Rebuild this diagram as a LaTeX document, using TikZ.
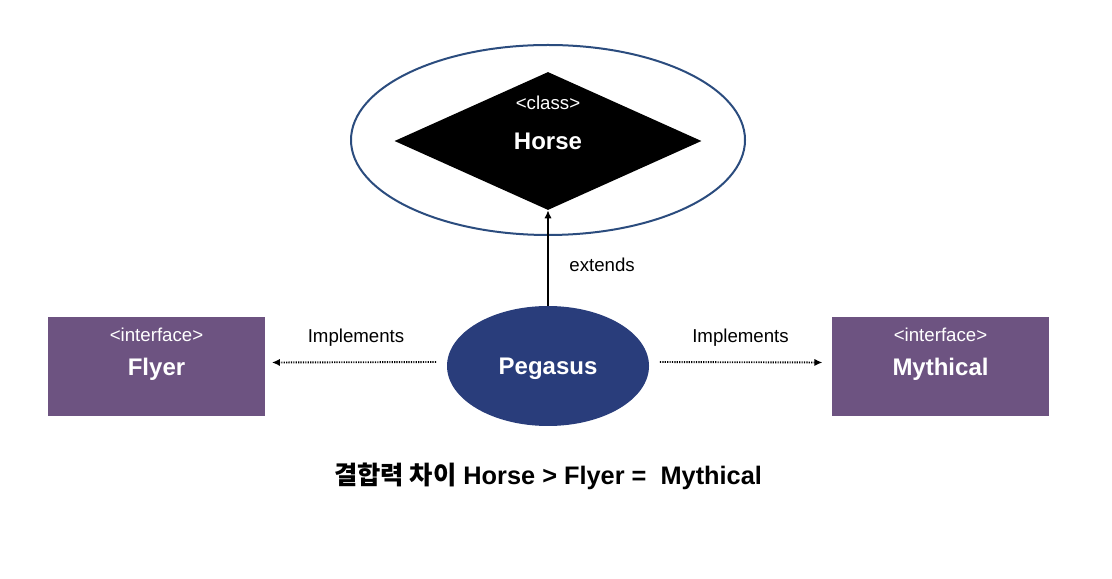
\documentclass[tikz,border=0pt]{standalone}
\usepackage{fontspec}
\setmainfont{Liberation Sans}
\newfontfamily\cjk{Noto Sans CJK KR}
\usetikzlibrary{arrows.meta,shapes.geometric}
\definecolor{ringblue}{HTML}{2B4C7E}
\definecolor{pegblue}{HTML}{293D7B}
\definecolor{ifpurple}{HTML}{6D5381}

\begin{document}
\begin{tikzpicture}[x=0.75pt,y=0.75pt,>={Latex[length=6pt,width=5.5pt]},
 title/.style={font=\bfseries\fontsize{18}{22}\selectfont,text=white,text height=13pt,text depth=0pt},
 tag/.style={font=\fontsize{14}{17}\selectfont,text=white},
 note/.style={font=\fontsize{14}{17}\selectfont},
 iface/.style={fill=ifpurple,minimum width=162.75pt,minimum height=74.25pt,inner sep=0pt},
 impl/.style={->,line width=1.4pt,dash pattern=on 0.9pt off 0.9pt}]
\useasboundingbox (0,0) rectangle (1112,578);
% Class on top, inside its ring.
\node[draw=ringblue,line width=1.5pt,ellipse,minimum width=295.5pt,minimum height=142.5pt] (ring) at (548,438) {};
\node[diamond,fill=black,aspect=2.22,minimum width=230.25pt,minimum height=103.5pt,inner sep=0pt,title] (horse) at (548,437) {Horse};
\node[tag] (horsetag) at (548,475) {<class>};
\node[ellipse,fill=pegblue,minimum width=151.5pt,minimum height=90pt,title] (pegasus) at (548,212) {Pegasus};
% Interfaces on either side.
\node[iface,title] (flyer) at (156.5,211.5) {Flyer};
\node[tag] (flyertag) at (156.5,243) {<interface>};
\node[iface,title] (mythical) at (940.5,211.5) {Mythical};
\node[tag] (mythtag) at (940.5,243) {<interface>};
\draw[->,line width=1.5pt] (pegasus.north) -- (horse.south) node[pos=0.43,right=12pt,note] {extends};
\draw[impl,shorten <=8pt,shorten >=5pt] ([yshift=3pt]pegasus.west) -- ([yshift=3pt]flyer.east)
 node[midway,above=8pt,note] {Implements};
\draw[impl,shorten <=8pt,shorten >=7pt] ([yshift=3pt]pegasus.east) -- ([yshift=3pt]mythical.west)
 node[midway,above=8pt,note] {Implements};
\node[font=\bfseries\fontsize{19}{23}\selectfont] (summary) at (548,102) {{\cjk 결합력 차이} Horse > Flyer =~ Mythical};
\end{tikzpicture}
\end{document}
